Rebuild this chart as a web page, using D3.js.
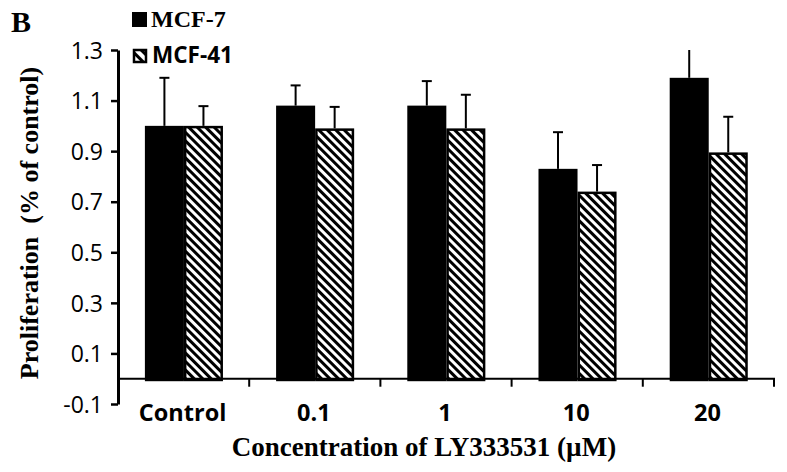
<!DOCTYPE html>
<html>
<head>
<meta charset="utf-8">
<script src="https://cdn.jsdelivr.net/npm/d3@7"></script>
<style>
  html, body { margin: 0; padding: 0; background: #fff; }
  svg { display: block; }
</style>
</head>
<body>
<svg id="chart" width="787" height="472"></svg>
<script>
// ---- data ----
const categories = ["Control", "0.1", "1", "10", "20"];
const seriesNames = ["MCF-7", "MCF-41"];
const mcf7 = [1.00, 1.08, 1.08, 0.83, 1.19];
const mcf41 = [1.00, 0.99, 0.99, 0.74, 0.895];
const mcf7Err = [0.19, 0.08, 0.097, 0.145, 0.12];
const mcf41Err = [0.078, 0.085, 0.133, 0.105, 0.141];
const yTicks = [-0.1, 0.1, 0.3, 0.5, 0.7, 0.9, 1.1, 1.3];
const xTitle = "Concentration of LY333531 (\u00B5M)";
const yTitle = "Proliferation\u00A0 (% of control)";
const panelLabel = "B";

// ---- layout ----
const svg = d3.select("#chart");
const plotLeft = 118, plotRight = 774, plotTop = 50, plotBottom = 404;

const y = d3.scaleLinear().domain([-0.1, 1.3]).range([plotBottom, plotTop]);
const x0 = d3.scaleBand().domain(categories).range([plotLeft, plotRight]).padding(0);
const bw = x0.bandwidth();
const x1 = d3.scaleBand().domain(seriesNames).range([bw * 0.205, bw * 0.8]).padding(0);

const sansFont = "'Open Sans', 'Liberation Sans', sans-serif";
const serifFont = "'Liberation Serif', 'Times New Roman', serif";
const fmt = d => d3.format(".1f")(d).replace("\u2212", "-");

// hatch pattern
const defs = svg.append("defs");
const pat = defs.append("pattern")
  .attr("id", "hatch")
  .attr("patternUnits", "userSpaceOnUse")
  .attr("width", 6).attr("height", 6)
  .attr("patternTransform", "rotate(-45)");
pat.append("rect").attr("width", 6).attr("height", 6).attr("fill", "#fff");
pat.append("rect").attr("width", 3).attr("height", 6).attr("fill", "#000");

const patSmall = defs.append("pattern")
  .attr("id", "hatchSmall")
  .attr("patternUnits", "userSpaceOnUse")
  .attr("width", 7).attr("height", 7)
  .attr("patternTransform", "rotate(-45)");
patSmall.append("rect").attr("width", 7).attr("height", 7).attr("fill", "#fff");
patSmall.append("rect").attr("width", 3).attr("height", 7).attr("fill", "#000");

defs.append("clipPath").attr("id", "plotClip")
  .append("rect").attr("x", plotLeft).attr("y", plotTop)
  .attr("width", plotRight - plotLeft).attr("height", plotBottom - plotTop);

const data = categories.map((c, i) => ({
  cat: c,
  vals: [
    { s: "MCF-7", v: mcf7[i], e: mcf7Err[i] },
    { s: "MCF-41", v: mcf41[i], e: mcf41Err[i] }
  ]
}));

// error bars
const errG = svg.append("g").attr("clip-path", "url(#plotClip)");
data.forEach(d => {
  d.vals.forEach(b => {
    const cx = x0(d.cat) + x1(b.s) + x1.bandwidth() / 2;
    errG.append("line")
      .attr("x1", cx).attr("x2", cx)
      .attr("y1", y(b.v)).attr("y2", y(b.v + b.e))
      .attr("stroke", "#000").attr("stroke-width", 2);
    errG.append("line")
      .attr("x1", cx - 5).attr("x2", cx + 5)
      .attr("y1", y(b.v + b.e)).attr("y2", y(b.v + b.e))
      .attr("stroke", "#000").attr("stroke-width", 2);
  });
});

// bars
const barG = svg.append("g");
data.forEach(d => {
  d.vals.forEach(b => {
    const bx = x0(d.cat) + x1(b.s);
    barG.append("rect")
      .attr("x", bx + 1.25)
      .attr("y", y(b.v) + 1.25)
      .attr("width", x1.bandwidth() - 2.5)
      .attr("height", y(0) - y(b.v))
      .attr("fill", b.s === "MCF-7" ? "#000" : "url(#hatch)")
      .attr("stroke", "#000")
      .attr("stroke-width", 2.5);
  });
});

// y axis
const yAxis = svg.append("g")
  .attr("transform", `translate(${plotLeft},0)`)
  .call(d3.axisLeft(y).tickValues(yTicks).tickFormat(fmt).tickSize(7).tickSizeOuter(0).tickPadding(8));
yAxis.select(".domain").attr("stroke-width", 3);
yAxis.selectAll(".tick line").attr("stroke-width", 2.5);
yAxis.selectAll(".tick text")
  .attr("font-family", sansFont).attr("font-size", 23).attr("fill", "#000")
  .attr("dy", "0.36em");

// x axis at y = 0
const xAxisG = svg.append("g").attr("transform", `translate(0,${y(0)})`);
xAxisG.append("line")
  .attr("x1", plotLeft).attr("x2", plotRight + 1)
  .attr("y1", 0).attr("y2", 0)
  .attr("stroke", "#000").attr("stroke-width", 2);
xAxisG.selectAll("line.bt")
  .data(categories)
  .join("line")
  .attr("class", "bt")
  .attr("x1", d => x0(d) + bw).attr("x2", d => x0(d) + bw)
  .attr("y1", 0).attr("y2", 8)
  .attr("stroke", "#000").attr("stroke-width", 2);

// category labels
svg.append("g").selectAll("text")
  .data(categories)
  .join("text")
  .attr("x", d => x0(d) + bw / 2 - 1)
  .attr("y", 421)
  .attr("text-anchor", "middle")
  .attr("font-family", sansFont)
  .attr("font-weight", "bold")
  .attr("font-size", 23.5)
  .text(d => d);

// axis titles
svg.append("text")
  .attr("x", 424).attr("y", 456)
  .attr("text-anchor", "middle")
  .attr("font-family", serifFont)
  .attr("font-weight", "bold")
  .attr("font-size", 27)
  .text(xTitle);

svg.append("text")
  .attr("transform", "translate(38,223) rotate(-90)")
  .attr("text-anchor", "middle")
  .attr("font-family", serifFont)
  .attr("font-weight", "bold")
  .attr("font-size", 26)
  .text(yTitle);

// panel label
svg.append("text")
  .attr("x", 11).attr("y", 32)
  .attr("font-family", serifFont)
  .attr("font-weight", "bold")
  .attr("font-size", 30)
  .text(panelLabel);

// legend
const leg = svg.append("g");
leg.append("rect").attr("x", 132).attr("y", 12).attr("width", 15).attr("height", 15).attr("fill", "#000");
leg.append("text").attr("x", 151).attr("y", 27)
  .attr("font-family", serifFont).attr("font-weight", "bold").attr("font-size", 24)
  .text(seriesNames[0]);
leg.append("rect").attr("x", 134).attr("y", 50).attr("width", 12).attr("height", 12)
  .attr("fill", "url(#hatchSmall)").attr("stroke", "#000").attr("stroke-width", 2.5);
leg.append("text").attr("x", 152).attr("y", 63)
  .attr("font-family", sansFont).attr("font-weight", "bold").attr("font-size", 22.5)
  .text(seriesNames[1]);
</script>
</body>
</html>
